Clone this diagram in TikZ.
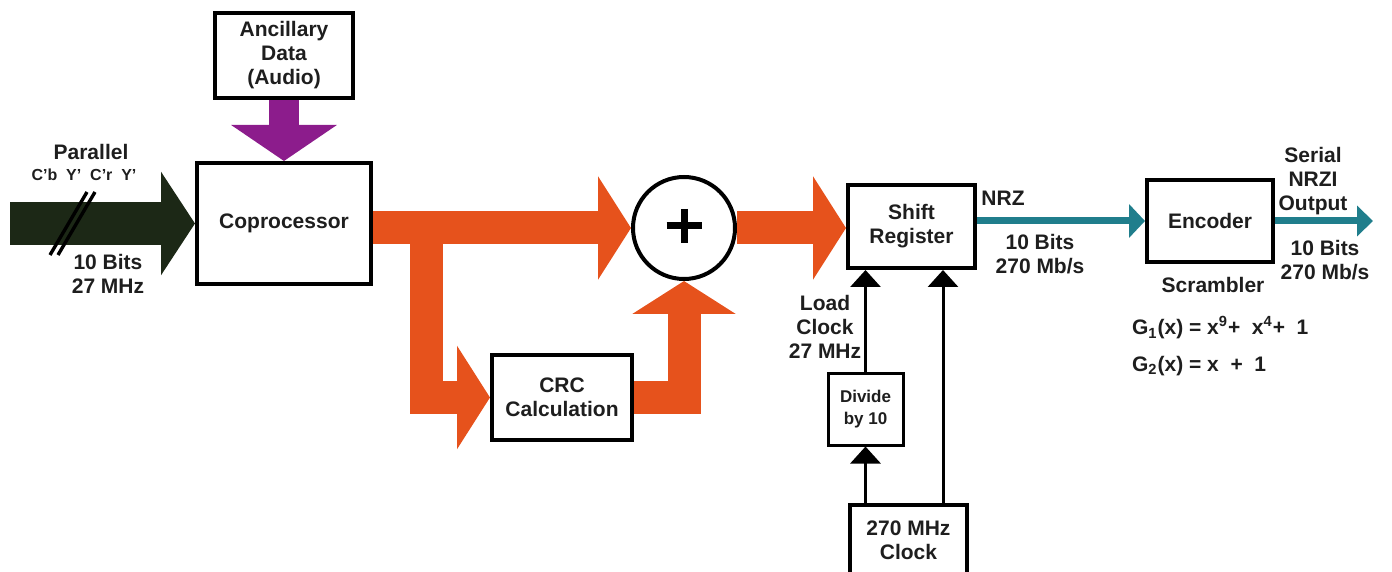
\documentclass[tikz,border=0pt]{standalone}
\usepackage{fontspec}
\setmainfont{Liberation Sans}
\usetikzlibrary{arrows.meta}
\definecolor{sdiorange}{RGB}{230, 82, 28}
\definecolor{sdipurple}{RGB}{140, 28, 140}
\definecolor{sditeal}{RGB}{32, 126, 140}
\definecolor{sdigreen}{RGB}{28, 40, 22}
\definecolor{sditext}{RGB}{30, 30, 30}

\begin{document}
\begin{tikzpicture}[x=0.5pt, y=-0.5pt,
    every node/.style={font=\fontsize{10.5}{12}\selectfont\bfseries, text=sditext, align=center},
    blk/.style={draw=black, fill=white, line width=2pt, inner sep=0pt},
    fat/.style={line width=#1, line join=miter},
    orangearr/.style={draw=sdiorange, fat=16.5pt, -{Triangle[width=51pt,length=16.5pt]}},
    clkarr/.style={draw=black, line width=1.5pt, -{Triangle[width=15pt,length=8.5pt]}}]
  \useasboundingbox (0,0) rectangle (1392,572);
  \clip (0,0) rectangle (1392,572);
  % blocks
  \node[blk, minimum width=69pt, minimum height=42.5pt] (anc) at (284,55.5) {Ancillary\\Data\\(Audio)};
  \node[blk, minimum width=87pt, minimum height=60.5pt] (copro) at (284,223.5) {Coprocessor};
  \node[blk, minimum width=70pt, minimum height=42.5pt] (crc) at (562,397.5) {CRC\\Calculation};
  \node[blk, circle, minimum size=51pt] (sum) at (684,228) {};
  \node[blk, minimum width=63.5pt, minimum height=41.5pt] (shift) at (911.5,226.5) {Shift\\Register};
  \node[blk, minimum width=63pt, minimum height=41pt] (enc) at (1210,221) {Encoder};
  \node[blk, line width=1.5pt, minimum width=37.5pt, minimum height=36pt,
        font=\fontsize{8.5}{11}\selectfont\bfseries] (div) at (865.5,409) {Divide\\by 10};
  \node[blk, minimum width=58.5pt, minimum height=35pt] (clk) at (908.5,540) {270 MHz\\Clock};
  \coordinate (gin) at (10,223.5);
  \coordinate (br) at (426,228);
  \coordinate (tout) at (1373,221);
  \coordinate (fastclk) at ([xshift=17.25pt]clk.north);
  % fat arrows
  \draw[draw=sdigreen, fat=21.5pt, -{Triangle[width=51pt,length=17pt]}] (gin) -- (copro.west);
  \draw[line width=1.7pt] (50,255) -- (87,192);
  \draw[line width=1.7pt] (58,255) -- (95,192);
  \draw[draw=sdipurple, fat=15pt, -{Triangle[width=52pt,length=18pt]}] (anc.south) -- (copro.north);
  \draw[orangearr] (sum.west -| copro.east) -- (sum.west);
  \draw[orangearr] (br) |- (crc.west);
  \draw[orangearr] (crc.east) -| (sum.south);
  \draw[orangearr] (sum.east) -- (sum.east -| shift.west);
  \draw[line width=3.5pt] (sum.center) ++(-17.5,-2) -- ++(35,0);
  \draw[line width=3.5pt] (sum.center) ++(0,-19) -- ++(0,34);
  % serial side
  \draw[sditeal, line width=3.5pt, -{Triangle[width=16.5pt,length=8pt]}] (enc.west -| shift.east) -- (enc.west);
  \draw[sditeal, line width=3.5pt, -{Triangle[width=15pt,length=8pt]}] (enc.east) -- (tout);
  \draw[clkarr] (div.north) -- (div.north |- shift.south);
  \draw[clkarr] (div.south |- clk.north) -- (div.south);
  \draw[clkarr] (fastclk) -- (fastclk |- shift.south);
  % labels
  \node (par) at (91,152) {Parallel};
  \node[font=\fontsize{8}{9}\selectfont\bfseries] (comp) at (84,175) {C'b\ \ Y'\ \ C'r\ \ Y'};
  \node (inrate) at (108,274) {10 Bits\\27 MHz};
  \node (load) at (825,327) {Load\\Clock\\27 MHz};
  \node (nrz) at (1003,198) {NRZ};
  \node (midrate) at (1040,254) {10 Bits\\270 Mb/s};
  \node (outlbl) at (1313,181) {Serial\\NRZI\\Output};
  \node (outrate) at (1325,260) {10 Bits\\270 Mb/s};
  \node (scr) at (1213,285) {Scrambler};
  \node[anchor=west] (gone) at (1125,328) {G\textsubscript{1}(x) = x\textsuperscript{9}+\ \ x\textsuperscript{4}+\ \ 1};
  \node[anchor=west] (gtwo) at (1125,366) {G\textsubscript{2}(x) = x\ \ +\ \ 1};
\end{tikzpicture}
\end{document}
